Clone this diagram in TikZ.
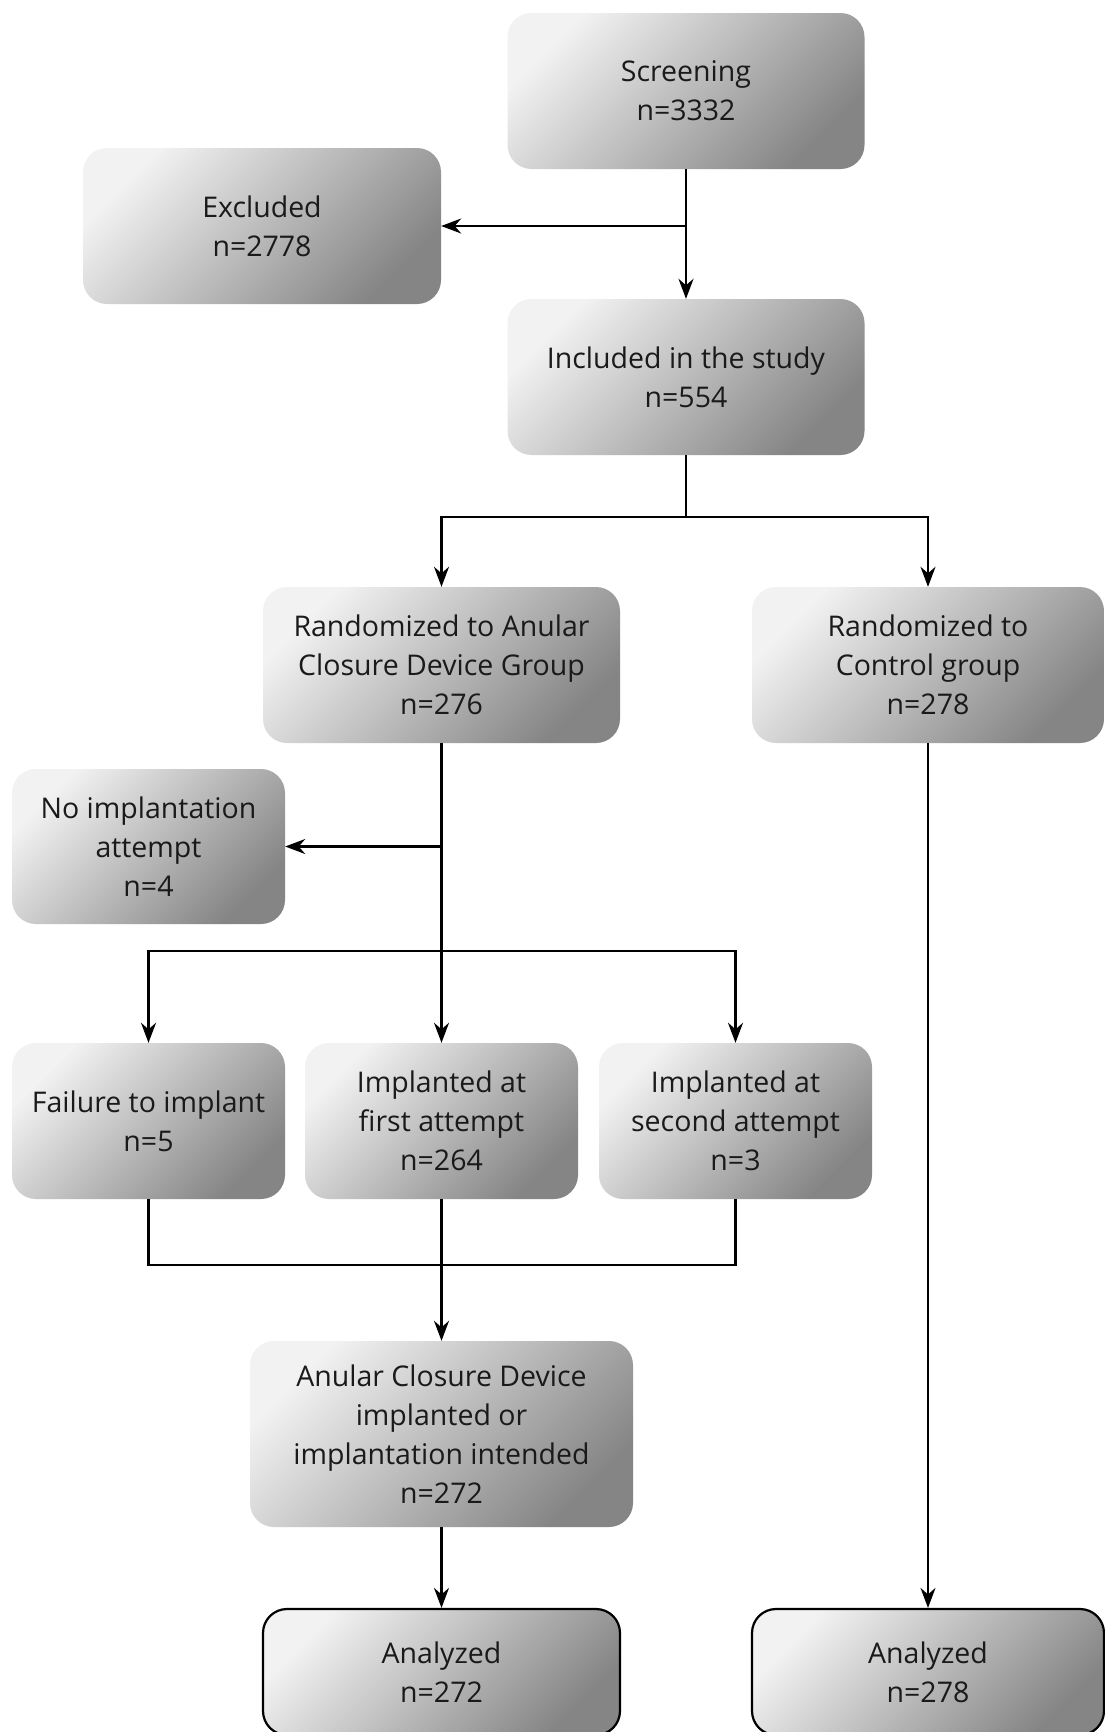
\documentclass[tikz,border=0pt]{standalone}
\usepackage{fontspec}
\setmainfont{Open Sans}
\usetikzlibrary{arrows.meta}
\definecolor{boxlight}{HTML}{F2F2F2}
\definecolor{boxdark}{HTML}{858585}
\definecolor{txt}{HTML}{1A1A1A}
\begin{document}
\begin{tikzpicture}[x=1pt,y=-1pt,
  box/.style={rectangle, rounded corners=24pt, top color=boxlight, bottom color=boxdark, shading angle=45,
    minimum height=156pt, align=center, text=txt, inner sep=0pt,
    font=\fontsize{28.5}{39}\selectfont},
  endbox/.style={box, draw=black, line width=2.2pt, minimum height=126pt},
  conn/.style={line width=2.2pt, black},
  arr/.style={conn, -{Stealth[length=20pt,width=15pt]}}
]
\useasboundingbox (0,0) rectangle (1105,1732);
\fill[white] (0,0) rectangle (1105,1732);

\node[box, minimum width=357pt] (screen) at (686,91) {Screening\\n=3332};
\node[box, minimum width=358pt] (excl) at (262,226) {Excluded\\n=2778};
\node[box, minimum width=357pt] (incl) at (686,377) {Included in the study\\n=554};
\node[box, minimum width=357pt] (rand) at (441.5,665) {Randomized to Anular\\Closure Device Group\\n=276};
\node[box, minimum width=352pt] (ctrl) at (928,665) {Randomized to\\Control group\\n=278};
\node[box, minimum width=273pt, minimum height=155pt] (noimp) at (148.5,846.5) {No implantation\\attempt\\n=4};
\node[box, minimum width=273pt] (fail) at (148.5,1121) {Failure to implant\\n=5};
\node[box, minimum width=273pt] (first) at (441.5,1121) {Implanted at\\first attempt\\n=264};
\node[box, minimum width=273pt] (second) at (735.5,1121) {Implanted at\\second attempt\\n=3};
\node[box, minimum width=383pt, minimum height=186pt] (acd) at (441.5,1434) {Anular Closure Device\\implanted or\\implantation intended\\n=272};
\node[endbox, minimum width=357pt] (an1) at (441.5,1672) {Analyzed\\n=272};
\node[endbox, minimum width=352pt] (an2) at (928,1672) {Analyzed\\n=278};

\coordinate (s1) at (686,517);
\coordinate (s2) at (441.5,951);
\coordinate (j1) at (441.5,1265);

% screening
\draw[arr] (screen.south) -- (incl.north);
\draw[arr] (screen.south |- excl.east) -- (excl.east);
% included split
\draw[conn] (incl.south) -- (s1);
\draw[arr] (s1) -| (rand.north);
\draw[arr] (s1) -| (ctrl.north);
% device group
\draw[arr] (rand.south) -- (first.north);
\draw[arr] (rand.south |- noimp.east) -- (noimp.east);
\draw[arr] (s2) -| (fail.north);
\draw[arr] (s2) -| (second.north);
% join
\draw[conn] (fail.south) |- (j1);
\draw[conn] (second.south) |- (j1);
\draw[arr] (first.south) -- (acd.north);
\draw[arr] (acd.south) -- (an1.north);
% control
\draw[arr] (ctrl.south) -- (an2.north);
\end{tikzpicture}
\end{document}
